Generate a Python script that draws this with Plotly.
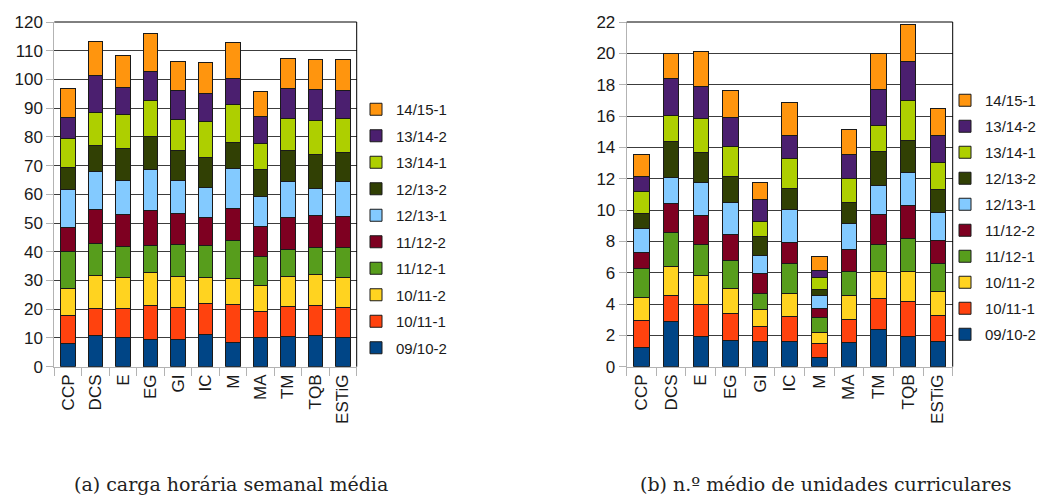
import plotly.graph_objects as go

W, H = 1045, 497
OFF = 8  # margem do <body> da página

cursos = ["CCP", "DCS", "E", "EG", "GI", "IC", "M", "MA", "TM", "TQB", "ESTiG"]
semestres = ["09/10-2", "10/11-1", "10/11-2", "11/12-1", "11/12-2",
             "12/13-1", "12/13-2", "13/14-1", "13/14-2", "14/15-1"]
cores = ["#004586", "#ff420e", "#ffd320", "#579d1c", "#7e0021",
         "#83caff", "#314004", "#aecf00", "#4b1f6f", "#ff950e"]

# (a) carga horária semanal média, por semestre
h_0910_2 = [8.1, 10.8, 10.1, 9.6, 9.5, 11.2, 8.5, 10.1, 10.6, 10.8, 10.1]
h_1011_1 = [9.8, 9.5, 10.2, 11.8, 11.2, 10.8, 13.1, 9.1, 10.2, 10.5, 10.6]
h_1011_2 = [9.3, 11.4, 10.8, 11.4, 10.7, 9.1, 9.1, 9.1, 10.6, 10.9, 10.3]
h_1112_1 = [12.9, 11.2, 10.7, 9.4, 11.2, 11.1, 13.2, 10.1, 9.5, 9.4, 10.6]
h_1112_2 = [8.5, 11.9, 11.2, 12.2, 10.9, 9.8, 11.3, 10.3, 11.0, 10.9, 10.7]
h_1213_1 = [13.1, 13.0, 11.8, 14.3, 11.2, 10.4, 13.7, 10.4, 12.7, 9.7, 12.1]
h_1213_2 = [7.7, 9.2, 11.1, 11.3, 10.6, 10.5, 9.1, 9.4, 10.8, 11.8, 10.2]
h_1314_1 = [10.1, 11.5, 12.0, 12.6, 10.7, 12.6, 13.4, 9.1, 10.9, 11.7, 11.8]
h_1314_2 = [7.2, 12.8, 9.2, 10.3, 10.1, 9.5, 9.0, 9.5, 10.4, 10.7, 9.8]
h_1415_1 = [10.3, 11.9, 11.1, 13.0, 10.0, 11.0, 12.6, 8.6, 10.5, 10.4, 10.9]

# (b) n.º médio de unidades curriculares, por semestre
uc_0910_2 = [1.24, 2.88, 1.94, 1.68, 1.60, 1.60, 0.58, 1.55, 2.36, 1.90, 1.60]
uc_1011_1 = [1.68, 1.68, 2.06, 1.73, 0.98, 1.62, 0.91, 1.47, 2.01, 2.23, 1.68]
uc_1011_2 = [1.47, 1.83, 1.84, 1.57, 1.10, 1.47, 0.70, 1.52, 1.72, 1.92, 1.55]
uc_1112_1 = [1.89, 2.19, 1.98, 1.77, 0.98, 1.91, 0.92, 1.53, 1.71, 2.15, 1.73]
uc_1112_2 = [1.03, 1.81, 1.85, 1.66, 1.30, 1.34, 0.62, 1.43, 1.91, 2.07, 1.49]
uc_1213_1 = [1.51, 1.67, 2.11, 2.07, 1.13, 2.11, 0.83, 1.62, 1.86, 2.15, 1.81]
uc_1213_2 = [0.98, 2.34, 1.87, 1.64, 1.24, 1.32, 0.38, 1.36, 2.19, 2.04, 1.47]
uc_1314_1 = [1.38, 1.62, 2.18, 1.92, 0.96, 1.92, 0.77, 1.53, 1.66, 2.56, 1.70]
uc_1314_2 = [0.96, 2.40, 2.06, 1.85, 1.36, 1.49, 0.45, 1.56, 2.30, 2.45, 1.71]
uc_1415_1 = [1.41, 1.58, 2.24, 1.75, 1.09, 2.09, 0.87, 1.57, 2.26, 2.36, 1.72]

carga = [h_0910_2, h_1011_1, h_1011_2, h_1112_1, h_1112_2,
         h_1213_1, h_1213_2, h_1314_1, h_1314_2, h_1415_1]
ucs = [uc_0910_2, uc_1011_1, uc_1011_2, uc_1112_1, uc_1112_2,
       uc_1213_1, uc_1213_2, uc_1314_1, uc_1314_2, uc_1415_1]

FW, FH = W - OFF, H - OFF


def px_x(x):
    return (x - OFF) / FW


def px_y(y):
    return 1 - (y - OFF) / FH


SANS = "Liberation Sans, Arial, sans-serif"
GRID = "#3c3c3c"
AXIS = "#b3b3b3"

fig = go.Figure()
for i, sem in enumerate(semestres):
    fig.add_trace(go.Bar(
        x=cursos, y=carga[i], name=sem, marker_color=cores[i],
        marker_line_color="#1a1a1a", marker_line_width=1,
        xaxis="x", yaxis="y", legend="legend",
        legendgroup=f"a{i}", legendrank=100 - i,
    ))
for i, sem in enumerate(semestres):
    fig.add_trace(go.Bar(
        x=cursos, y=ucs[i], name=sem, marker_color=cores[i],
        marker_line_color="#1a1a1a", marker_line_width=1,
        xaxis="x2", yaxis="y2", legend="legend2",
        legendgroup=f"b{i}", legendrank=100 - i,
    ))

ydom = [px_y(366.7), px_y(22)]
xcommon = dict(
    type="category", showline=True, linecolor=AXIS, linewidth=1,
    ticks="outside", tickson="boundaries", ticklen=8, tickcolor=AXIS,
    tickangle=-90, tickfont=dict(family=SANS, size=17, color="#1a1a1a"),
    showgrid=False, zeroline=False, automargin=False,
)
ycommon = dict(
    showline=True, linecolor=AXIS, linewidth=1, ticks="outside", ticklen=7,
    tickcolor=AXIS, tickfont=dict(family=SANS, size=17, color="#1a1a1a"),
    showgrid=True, gridcolor=GRID, gridwidth=1, zeroline=False, automargin=False,
)
legcommon = dict(
    font=dict(family=SANS, size=15, color="#1a1a1a"),
    traceorder="grouped", itemwidth=30,
    xanchor="left", yanchor="top", bgcolor="rgba(0,0,0,0)",
)

fig.update_layout(
    width=FW, height=FH,
    margin=dict(l=0, r=0, t=0, b=0),
    paper_bgcolor="white", plot_bgcolor="white",
    barmode="stack", bargap=0.48,
    xaxis=dict(domain=[px_x(54.3), px_x(356.7)], anchor="y", **xcommon),
    yaxis=dict(domain=ydom, anchor="x", range=[0, 120], dtick=10, **ycommon),
    xaxis2=dict(domain=[px_x(626.7), px_x(952.7)], anchor="y2", **xcommon),
    yaxis2=dict(domain=ydom, anchor="x2", range=[0, 22], dtick=2, **ycommon),
    legend=dict(x=px_x(356), y=px_y(93), tracegroupgap=4, **legcommon),
    legend2=dict(x=px_x(945), y=px_y(84), tracegroupgap=3.5, **legcommon),
    showlegend=True,
)

# moldura superior e direita a preto
for xr, yr in [("x domain", "y domain"), ("x2 domain", "y2 domain")]:
    fig.add_shape(type="line", xref=xr, yref=yr, x0=0, x1=1, y0=1, y1=1,
                  line=dict(color="black", width=1))
    fig.add_shape(type="line", xref=xr, yref=yr, x0=1, x1=1, y0=0, y1=1,
                  line=dict(color="black", width=1))

SERIF = "DejaVu Serif, serif"
for txt, cx in [("(a) carga horária semanal média", 231),
                ("(b) n.º médio de unidades curriculares", 825)]:
    fig.add_annotation(text=txt, xref="paper", yref="paper",
                       x=px_x(cx), y=px_y(484), xanchor="center", yanchor="middle",
                       showarrow=False, font=dict(family=SERIF, size=19, color="#222"))

fig.write_html("out.html")
